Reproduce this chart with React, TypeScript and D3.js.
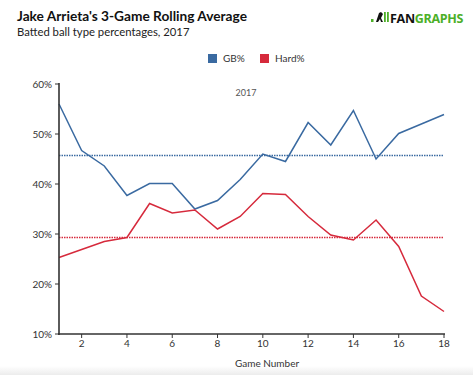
import React from "react";
import * as d3 from "d3";

const games = [1, 2, 3, 4, 5, 6, 7, 8, 9, 10, 11, 12, 13, 14, 15, 16, 17, 18];
const gbPct = [56.0, 46.7, 43.6, 37.7, 40.1, 40.1, 35.0, 36.7, 40.9, 46.0, 44.5, 52.3, 47.8, 54.7, 45.0, 50.1, 52.0, 53.9];
const hardPct = [25.3, 26.9, 28.5, 29.3, 36.1, 34.2, 34.8, 31.0, 33.5, 38.1, 37.9, 33.5, 29.8, 28.8, 32.8, 27.5, 17.6, 14.5];
const gbAvg = 45.7;
const hardAvg = 29.3;
const yTicks = [10, 20, 30, 40, 50, 60];
const xTicks = [2, 4, 6, 8, 10, 12, 14, 16, 18];
const seriesNames = ["GB%", "Hard%"];

const W = 473, H = 375;
const BLUE = "#3a6aa1";
const RED = "#d62a3c";
const FONT = "Lato, 'Open Sans', sans-serif";

export default function App() {
  const x = d3.scaleLinear().domain([1, 18]).range([59, 444]);
  const y = d3.scaleLinear().domain([10, 60]).range([334, 84]);
  const line = d3.line<number>().x((_, i) => x(games[i])).y((d) => y(d));

  return (
    <svg width={W} height={H} style={{ position: "fixed", left: 0, top: 0, background: "#fff" }} fontFamily={FONT}>
      <defs>
        <linearGradient id="bot" x1="0" y1="0" x2="0" y2="1">
          <stop offset="0" stopColor="#ffffff" />
          <stop offset="1" stopColor="#ececec" />
        </linearGradient>
      </defs>
      <rect x={0} y={0} width={W} height={H} fill="#fff" />
      <rect x={0} y={366} width={W} height={9} fill="url(#bot)" />

      <text x={17} y={21} fontSize={13.7} fontWeight={700} fill="#111">Jake Arrieta's 3-Game Rolling Average</text>
      <text x={17} y={36} fontSize={11.3} fill="#222">Batted ball type percentages, 2017</text>

      {/* logo */}
      <g>
        <rect x={371} y={19} width={2.5} height={3} fill="#4caf27" />
        <path d="M376 22 L379 13 L381 12 L383 14 L381 18 L383 22 L381 22 L380 19 L378 22 Z" fill="#111" />
        <rect x={384} y={12} width={1.8} height={10} fill="#4caf27" />
        <rect x={387} y={12} width={1.8} height={10} fill="#4caf27" />
        <text x={390} y={22.5} fontSize={12.5} fontWeight={700} fill="#111" fontFamily="'Open Sans', sans-serif" letterSpacing={-0.3}>
          FAN<tspan fill="#4caf27">GRAPHS</tspan>
        </text>
      </g>

      {/* legend */}
      {seriesNames.map((n, i) => (
        <g key={n} transform={`translate(${i === 0 ? 208 : 260},54)`}>
          <rect x={0} y={0} width={9} height={9} fill={i === 0 ? BLUE : RED} />
          <text x={15} y={8} fontSize={10} fill="#333">{n}</text>
        </g>
      ))}

      <text x={246} y={96} fontSize={9} fill="#555" textAnchor="middle">2017</text>

      {/* avg lines */}
      <line x1={x(1)} x2={x(18)} y1={y(gbAvg)} y2={y(gbAvg)} stroke={BLUE} strokeWidth={1.3} strokeDasharray="1.5,1" />
      <line x1={x(1)} x2={x(18)} y1={y(hardAvg)} y2={y(hardAvg)} stroke={RED} strokeWidth={1.3} strokeDasharray="1.5,1" />

      <path d={line(gbPct) || ""} fill="none" stroke={BLUE} strokeWidth={1.5} />
      <path d={line(hardPct) || ""} fill="none" stroke={RED} strokeWidth={1.5} />

      {/* axes */}
      <line x1={59} x2={59} y1={83} y2={335} stroke="#333" strokeWidth={1.6} />
      <line x1={58} x2={445} y1={334} y2={334} stroke="#333" strokeWidth={1.6} />
      {yTicks.map((t) => (
        <g key={t}>
          <line x1={55} x2={59} y1={y(t)} y2={y(t)} stroke="#333" strokeWidth={1} />
          <text x={52} y={y(t) + 3.5} fontSize={10} fill="#333" textAnchor="end">{t}%</text>
        </g>
      ))}
      {xTicks.map((t) => (
        <g key={t}>
          <line x1={x(t)} x2={x(t)} y1={334} y2={338} stroke="#333" strokeWidth={1} />
          <text x={x(t)} y={347} fontSize={10} fill="#333" textAnchor="middle">{t}</text>
        </g>
      ))}
      <text x={267} y={367} fontSize={10} fill="#333" textAnchor="middle">Game Number</text>
    </svg>
  );
}
